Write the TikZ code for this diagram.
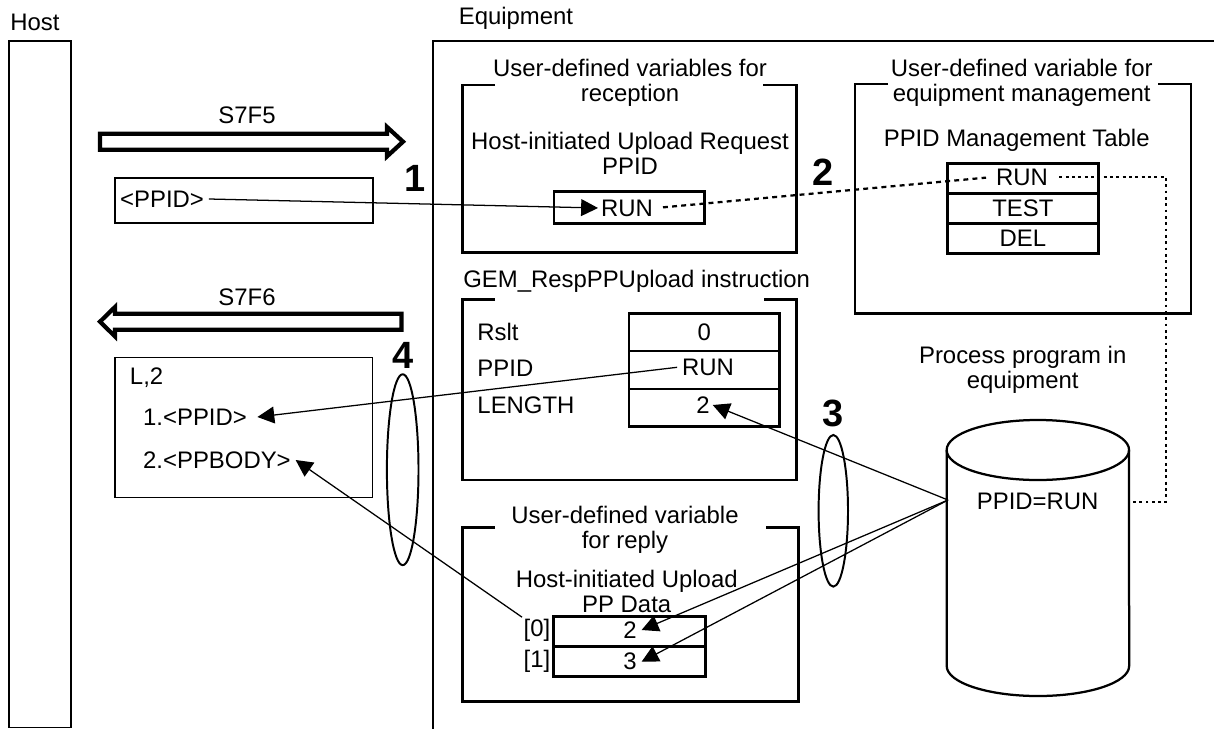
\documentclass[tikz,border=0pt]{standalone}
\usepackage{fontspec}
\setmainfont{Liberation Sans}
\usetikzlibrary{positioning, arrows.meta, fit, shapes.geometric}

\begin{document}
\begin{tikzpicture}[
    x=0.025cm, y=-0.025cm,
    txt/.style={font=\fontsize{17}{17.7}\selectfont, align=center},
    val/.style={txt, inner sep=2pt},
    num/.style={font=\fontsize{27}{27}\selectfont\bfseries, inner sep=1pt},
    frame/.style={draw, line width=1.4pt, inner sep=0pt},
    thinbox/.style={draw, line width=1.1pt, inner sep=0pt},
    grp/.style={line width=1.9pt},
    cell/.style={draw, line width=1.8pt, inner sep=0pt, txt, minimum width=3.77cm, minimum height=0.75cm},
    msg/.style={line width=3pt, line join=miter},
    arr/.style={-{Triangle[length=12pt, width=12pt]}, line width=0.9pt},
    link/.style={line width=1.6pt, dash pattern=on 3.5pt off 3pt},
    dotl/.style={line width=1pt, dash pattern=on 2pt off 2.5pt},
    ring/.style={draw, ellipse, line width=1.4pt, inner sep=0pt},
]
\useasboundingbox (0,0) rectangle (1214,729);

% Host and equipment
\node[txt, anchor=base west, inner sep=0pt] (hostlbl) at (10,31) {Host};
\node[txt, anchor=base, inner sep=0pt] (eqlbl) at (516,25) {Equipment};
\node[frame, fit={(9,41) (71,727.5)}] (hostbar) {};
\draw[line width=1.4pt] (1214,41) -- (433,41) -- (433,729);

% S7F5 request
\draw[msg] (100,133.7) -- (387,133.7) -- (387,127) -- (403,141.7) -- (387,156.4) -- (387,149.7) -- (100,149.7) -- cycle;
\node[txt] (s7f5) at (247,115) {S7F5};
\node[thinbox, fit={(115,178) (373,223)}] (reqbox) {};
\node[txt, anchor=west] (ppidtxt) at (115.2,199) {<PPID>};
\node[num] (n1) at (415,178) {1};

% reception variable
\draw[grp] (495,85) -- (462.7,85) -- (462.7,252.7) -- (796.7,252.7) -- (796.7,85) -- (763,85);
\node[txt] (titleA) at (630,82.5) {User-defined variables for\\reception};
\node[txt] (subA) at (630,153.3) {Host-initiated Upload Request\\PPID};
\node[cell, minimum width=3.76cm, minimum height=0.79cm] (runcell) at (629.2,207.5) {};
\node[val] (runA) at (627,208) {RUN};
\draw[arr] (ppidtxt.east) -- (runA.west);

% equipment management variable
\draw[grp] (888,84) -- (855,84) -- (855,313.3) -- (1191,313.3) -- (1191,84) -- (1158,84);
\node[txt] (titleB) at (1021.7,82.5) {User-defined variable for\\equipment management};
\node[txt] (subB) at (1016.7,140) {PPID Management Table};
\node[cell, minimum width=3.775cm] (mg1) at (1022.8,178.3) {};
\node[cell, minimum width=3.775cm] (mg2) at (1022.8,208.3) {TEST};
\node[cell, minimum width=3.775cm] (mg3) at (1022.8,238.3) {DEL};
\node[val] (runM) at (1022,177) {RUN};
\node[num] (n2) at (823,172) {2};
\draw[link, shorten <=5pt, shorten >=5pt] (runA.east) -- (runM.west);

% S7F6 reply
\draw[msg] (401.5,313.7) -- (115,313.7) -- (115,307) -- (100,321.7) -- (115,336.4) -- (115,329.7) -- (401.5,329.7) -- cycle;
\node[txt] (s7f6) at (247,297) {S7F6};
\node[thinbox, fit={(115,357.7) (372.7,497.7)}] (replybox) {};
\node[txt, anchor=west] (l2) at (125,378) {L,2};
\node[txt, anchor=west] (item1) at (138.2,417) {1.<PPID>};
\node[txt, anchor=west] (item2) at (138.2,460) {2.<PPBODY>};
\node[ring, minimum width=0.79cm, minimum height=4.77cm] (ring4) at (402.7,469.7) {};
\node[num, above=2.5pt of ring4] (n4) {4};

% GEM_RespPPUpload instruction
\node[txt] (titleC) at (636.7,281.7) {GEM\_RespPPUpload instruction};
\draw[grp] (495,299.3) -- (462.7,299.3) -- (462.7,480) -- (796.7,480) -- (796.7,299.3) -- (764,299.3);
\node[txt, anchor=west] (rslt) at (472.5,331.7) {Rslt};
\node[txt, anchor=west] (ppidlbl) at (472.5,368.3) {PPID};
\node[txt, anchor=west] (lenlbl) at (472.5,405) {LENGTH};
\node[cell, minimum width=3.76cm, minimum height=0.945cm] (g1) at (704.2,332.2) {0};
\node[cell, minimum width=3.76cm, minimum height=0.945cm] (g2) at (704.2,370) {};
\node[cell, minimum width=3.76cm, minimum height=0.945cm] (g3) at (704.2,407.8) {};
\node[txt] (runG) at (708,367.3) {RUN};
\node[val] (lenv) at (703,405) {2};
\draw[arr] (runG.west) -- ([xshift=4pt]item1.east);

% reply variable
\draw[grp] (495,527.7) -- (462.7,527.7) -- (462.7,701.7) -- (798.3,701.7) -- (798.3,527.7) -- (766,527.7);
\node[txt] (titleD) at (625,529.7) {User-defined variable\\for reply};
\node[txt] (subD) at (626.7,591.7) {Host-initiated Upload\\PP Data};
\node[cell, minimum width=3.81cm] (r0) at (629.5,631.7) {};
\node[cell, minimum width=3.81cm] (r1) at (629.5,661.7) {};
\node[txt] (r0v) at (630,630) {2};
\node[txt] (r1v) at (630,661.7) {3};
\node[txt, anchor=east, inner sep=1pt] (idx0) at (552,630) {[0]};
\node[txt, anchor=east, inner sep=1pt] (idx1) at (552,661.7) {[1]};
\draw[arr] (idx0.north west) -- (item2.east);

% process program in equipment
\node[txt] (proc) at (1022.7,370) {Process program in\\equipment};
\draw[line width=1.6pt] (946.7,450) -- (946.7,666) arc[start angle=180, end angle=360, x radius=2.28cm, y radius=0.75cm] -- (1129,450);
\draw[line width=1.6pt] (1037.85,450) ellipse [x radius=2.28cm, y radius=0.75cm];
\node[txt] (ppidrun) at (1037.7,501.7) {PPID=RUN};
\coordinate (cylleft) at (948,500);
\coordinate (cylright) at (1129,502);
\coordinate (dotbend) at (1166,0);
\draw[dotl, shorten <=6pt] (runM.east) -- (runM.east -| dotbend) |- (cylright);

\node[ring, minimum width=0.735cm, minimum height=3.79cm] (ring3) at (833.3,510.8) {};
\node[num, above=3.7pt of ring3] (n3) {3};
\draw[arr] (cylleft) -- (lenv.east);
\draw[arr] (cylleft) -- (r0v.east);
\draw[arr] (cylleft) -- (r1v.east);

\end{tikzpicture}
\end{document}
